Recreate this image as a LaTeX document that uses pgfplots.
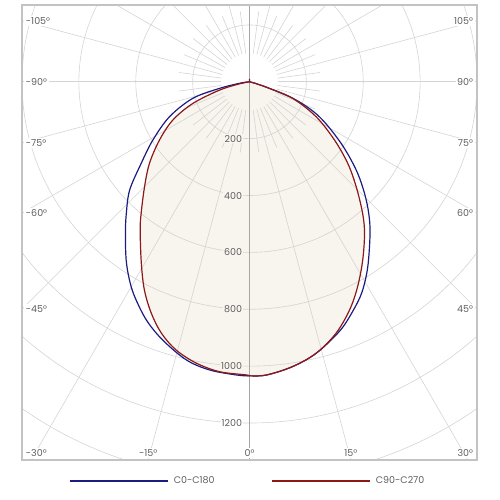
\documentclass[border=0pt]{standalone}
\usepackage{fontspec}
\setmainfont{Poppins}
\usepackage{pgfplots}
\usepackage{pgfplotstable}
\pgfplotsset{compat=1.18}

\definecolor{cblue}{RGB}{28,28,128}
\definecolor{cred}{RGB}{140,24,24}
\definecolor{cfill}{RGB}{248,244,238}
\definecolor{cgrid}{RGB}{212,212,212}
\definecolor{caxis}{RGB}{165,165,165}
\definecolor{cframe}{RGB}{195,195,195}
\definecolor{ctext}{RGB}{95,95,95}

% C0-C180 : angle (deg, 0 = downward) and intensity (cd)
\pgfplotstableread{
a I
-90 0
-86 0
-82 30
-77.6 108
-73.7 208
-66.4 307
-58.9 397
-53.0 477
-47.9 568
-43.1 634
-39.3 689
-34.7 762
-31.2 815
-28.1 857
-23.4 913
-18.6 958
-12.8 1003
-7.9 1023
-2.6 1032
0 1034
3.3 1033
8.6 1013
13.8 983
19.9 932
24.3 884
28.2 838
32.6 772
38.5 681
42.2 624
45.9 563
50.4 487
56.1 388
63.4 275
68.6 176
71.7 74
75 20
80 0
90 0
}\bluetab

% C90-C270
\pgfplotstableread{
a I
-180 10
-170 3
-95 0
-82 0
-78 40
-74.5 109
-69.1 213
-63.5 301
-57.1 377
-50.8 454
-45 522
-39.5 599
-36.4 648
-30.8 743
-26.8 820
-23.0 884
-19.3 937
-15.3 978
-10.7 1007
-5.9 1025
-0.6 1031
0 1034
3.3 1033
8.6 1013
13.8 983
19.0 935
23.7 876
27.8 815
32.4 743
37.2 669
40.7 610
45.5 526
50.3 449
55.6 362
62.3 265
69.0 163
71.7 74
75 20
80 0
95 0
170 3
180 10
}\redtab

\begin{document}
\begin{tikzpicture}
\begin{axis}[
  x=0.284375pt, y=0.284375pt,
  xmin=-800, xmax=800, ymin=-1330, ymax=270,
  hide axis, clip=false,
  legend columns=2,
  legend style={draw=none, fill=none, at={(axis description cs:0.5,-0.046)}, anchor=center,
    font=\fontsize{9.5}{10}\selectfont, text=ctext,
    /tikz/every even column/.append style={column sep=52pt},
    nodes={inner xsep=5pt}},
  legend image code/.code={\draw[#1] (0pt,0pt) -- (98pt,0pt);},
]
% page extent
\path (axis cs:-877.4,-1467.5) rectangle (axis cs:880.9,287.6);

% filled C90-C270 area
\addplot[fill=cfill, draw=none, forget plot, smooth, tension=0.55]
  table[x expr={\thisrow{I}*sin(\thisrow{a})}, y expr={-\thisrow{I}*cos(\thisrow{a})}] {\redtab};

\begin{scope}
\clip (axis cs:-800,-1330) rectangle (axis cs:800,270);
\pgfplotsinvokeforeach{200,400,600,800,1000,1200,1400}{
  \draw[cgrid, line width=0.6pt] (axis cs:0,0) circle[radius={#1*0.284375pt}];
}
\pgfplotsinvokeforeach{0,15,...,345}{
  \draw[cgrid, line width=0.6pt] (axis cs:{100*sin(#1)},{-100*cos(#1)}) -- (axis cs:{2000*sin(#1)},{-2000*cos(#1)});
}
\pgfplotsinvokeforeach{7.5,22.5,...,352.5}{
  \draw[cgrid, line width=0.6pt] (axis cs:{100*sin(#1)},{-100*cos(#1)}) -- (axis cs:{250*sin(#1)},{-250*cos(#1)});
}
\draw[caxis, line width=0.7pt] (axis cs:0,270) -- (axis cs:0,-1330);
\end{scope}
\draw[cframe, line width=1.3pt] (axis cs:-800,-1330) rectangle (axis cs:800,270);

% radial labels
\pgfplotsinvokeforeach{200,400,600,800,1000}{
  \node[anchor=east, fill=cfill, inner sep=1pt, text=ctext, font=\fontsize{9.5}{10}\selectfont] at (axis cs:-22,-#1) {#1};
}
\node[anchor=east, fill=white, inner sep=1pt, text=ctext, font=\fontsize{9.5}{10}\selectfont] at (axis cs:-22,-1200) {1200};

% angle labels
\tikzset{albl/.style={fill=white, inner sep=1.5pt, text=ctext, font=\fontsize{9.5}{10}\selectfont}}
\node[albl, anchor=west] at (axis cs:-792,214) {-105°};
\node[albl, anchor=west] at (axis cs:-792,0) {-90°};
\node[albl, anchor=west] at (axis cs:-792,-214) {-75°};
\node[albl, anchor=west] at (axis cs:-792,-462) {-60°};
\node[albl, anchor=west] at (axis cs:-792,-800) {-45°};
\node[albl, anchor=west] at (axis cs:-792,-1305) {-30°};
\node[albl, anchor=east] at (axis cs:792,214) {105°};
\node[albl, anchor=east] at (axis cs:792,0) {90°};
\node[albl, anchor=east] at (axis cs:792,-214) {75°};
\node[albl, anchor=east] at (axis cs:792,-462) {60°};
\node[albl, anchor=east] at (axis cs:792,-800) {45°};
\node[albl, anchor=east] at (axis cs:792,-1305) {30°};
\node[albl] at (axis cs:-356,-1305) {-15°};
\node[albl] at (axis cs:0,-1305) {0°};
\node[albl] at (axis cs:356,-1305) {15°};

\addplot[cblue, line width=1.2pt, smooth, tension=0.55]
  table[x expr={\thisrow{I}*sin(\thisrow{a})}, y expr={-\thisrow{I}*cos(\thisrow{a})}] {\bluetab};
\addlegendentry{C0-C180}
\addplot[cred, line width=1.2pt, smooth, tension=0.55]
  table[x expr={\thisrow{I}*sin(\thisrow{a})}, y expr={-\thisrow{I}*cos(\thisrow{a})}] {\redtab};
\addlegendentry{C90-C270}
\end{axis}
\end{tikzpicture}
\end{document}
